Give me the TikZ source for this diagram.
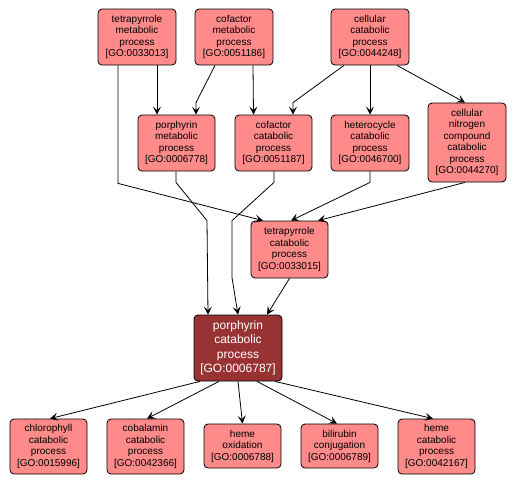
\documentclass[tikz,border=0pt]{standalone}
\usepackage{fontspec}
\setmainfont{Liberation Sans}
\usetikzlibrary{arrows.meta}
\definecolor{lightgo}{HTML}{FF8A8A}
\definecolor{darkgo}{HTML}{993333}
\tikzset{
  goterm/.style={draw=black, line width=0.8pt, fill=lightgo, rounded corners=4pt,
    align=center, inner sep=0pt, font=\fontsize{10}{11.5}\selectfont, text=black},
  gomain/.style={draw=black, line width=0.8pt, fill=darkgo, rounded corners=4pt,
    align=center, inner sep=0pt, font=\fontsize{12}{14.3}\selectfont, text=white},
  golink/.style={draw=black, line width=0.8pt, -{Stealth[length=8pt,width=8pt,inset=3.5pt]}}
}
\begin{document}
\begin{tikzpicture}[x=1pt,y=-1pt]
\useasboundingbox[fill=white] (0,0) rectangle (518,485);
% top row
\node[goterm, minimum width=78pt, minimum height=56pt] (tm) at (137,37) {tetrapyrrole\\metabolic\\process\\{[}GO:0033013{]}};
\node[goterm, minimum width=78pt, minimum height=56pt] (cm) at (234,37) {cofactor\\metabolic\\process\\{[}GO:0051186{]}};
\node[goterm, minimum width=78pt, minimum height=56pt] (cc) at (370,37) {cellular\\catabolic\\process\\{[}GO:0044248{]}};
% second row
\node[goterm, minimum width=77pt, minimum height=56pt] (pm) at (176.5,143) {porphyrin\\metabolic\\process\\{[}GO:0006778{]}};
\node[goterm, minimum width=77pt, minimum height=56pt] (coc) at (273.5,143) {cofactor\\catabolic\\process\\{[}GO:0051187{]}};
\node[goterm, minimum width=78pt, minimum height=56pt] (hc) at (370,143) {heterocycle\\catabolic\\process\\{[}GO:0046700{]}};
\node[goterm, minimum width=78pt, minimum height=79pt] (cn) at (467,142.5) {cellular\\nitrogen\\compound\\catabolic\\process\\{[}GO:0044270{]}};
% third row
\node[goterm, minimum width=77pt, minimum height=57pt] (tc) at (289.5,249.5) {tetrapyrrole\\catabolic\\process\\{[}GO:0033015{]}};
% main
\node[gomain, minimum width=88pt, minimum height=66pt] (pc) at (238,348) {porphyrin\\catabolic\\process\\{[}GO:0006787{]}};
% bottom row
\node[goterm, minimum width=77pt, minimum height=55pt] (ch) at (48.5,446.5) {chlorophyll\\catabolic\\process\\{[}GO:0015996{]}};
\node[goterm, minimum width=77pt, minimum height=55pt] (cb) at (145.5,446.5) {cobalamin\\catabolic\\process\\{[}GO:0042366{]}};
\node[goterm, minimum width=77pt, minimum height=44pt] (ho) at (242.5,446) {heme\\oxidation\\{[}GO:0006788{]}};
\node[goterm, minimum width=77pt, minimum height=44pt] (bc) at (339.5,446) {bilirubin\\conjugation\\{[}GO:0006789{]}};
\node[goterm, minimum width=77pt, minimum height=55pt] (hcp) at (436.5,446.5) {heme\\catabolic\\process\\{[}GO:0042167{]}};
% edges
\draw[golink] ([xshift=20pt]tm.south) -- ([xshift=-19.5pt]pm.north);
\draw[golink] ([xshift=-19pt]tm.south) -- ++(0,118) -- ([xshift=-26.5pt]tc.north);
\draw[golink] ([xshift=-19pt]cm.south) -- ([xshift=19.5pt,yshift=12pt]pm.north) -- ([xshift=19.5pt]pm.north);
\draw[golink] ([xshift=19pt]cm.south) -- ([xshift=-20pt]coc.north);
\draw[golink] ([xshift=-26pt]cc.south) -- ([xshift=19.5pt,yshift=12pt]coc.north) -- ([xshift=19.5pt]coc.north);
\draw[golink] (cc.south) -- (hc.north);
\draw[golink] ([xshift=27pt]cc.south) -- ([xshift=-2pt]cn.north);
\draw[golink] ([xshift=-0.5pt]pm.south) -- ++(0,11) -- ([xshift=-31pt,yshift=94pt]pc.north) -- ([xshift=-30pt]pc.north);
\draw[golink] ([xshift=0.5pt]coc.south) -- ++(0,11) -- ([xshift=-6pt,yshift=94pt]pc.north) -- ([xshift=-6pt,yshift=37pt]pc.north) -- (pc.north);
\draw[golink] (hc.south) -- ++(0,11) -- ([xshift=1.5pt]tc.north);
\draw[golink] ([xshift=-2pt]cn.south) -- ([xshift=28.5pt]tc.north);
\draw[golink] (tc.south) -- ([xshift=29pt]pc.north);
\draw[golink] ([xshift=-38pt]pc.south) -- ([xshift=1.5pt]ch.north);
\draw[golink] ([xshift=-19pt]pc.south) -- ([xshift=1.5pt]cb.north);
\draw[golink] (pc.south) -- (ho.north);
\draw[golink] ([xshift=19pt]pc.south) -- ([xshift=-2.5pt]bc.north);
\draw[golink] ([xshift=37pt]pc.south) -- ([xshift=-3.5pt]hcp.north);
\end{tikzpicture}
\end{document}
